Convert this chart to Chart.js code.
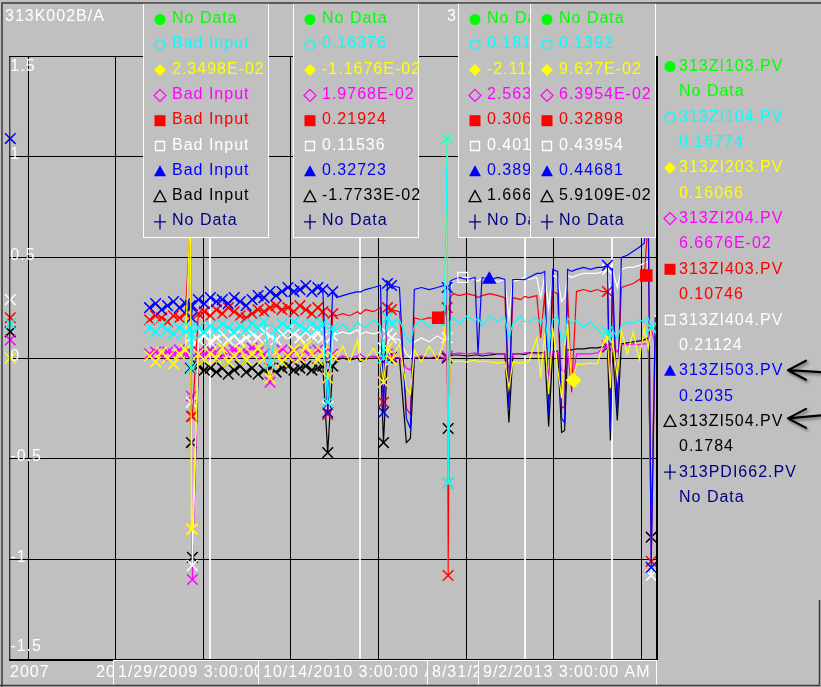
<!DOCTYPE html>
<html>
<head>
<meta charset="utf-8">
<title>313K002B/A trend</title>
<script src="https://cdn.jsdelivr.net/npm/chart.js@4.4.1/dist/chart.umd.min.js"></script>
<style>
  html, body { margin: 0; padding: 0; background: #c0c0c0; overflow: hidden; }
  canvas { display: block; }
</style>
</head>
<body>
<canvas id="trend" width="821" height="687"></canvas>
<script>
// ---- sample times (decimal years) shared by every trace ----
const traceYears = [
  2006.795, 2007.5,
  2008.386, 2008.455, 2008.523, 2008.591, 2008.659, 2008.727, 2008.795, 2008.852, 2008.864, 2008.875,
  2008.943, 2009.011, 2009.08, 2009.148, 2009.216, 2009.284, 2009.352, 2009.420, 2009.489, 2009.557,
  2009.625, 2009.693, 2009.761, 2009.830, 2009.898, 2009.966, 2010.034, 2010.102, 2010.170, 2010.239,
  2010.307, 2010.364, 2010.420, 2010.477,
  2010.523, 2010.591, 2010.670, 2010.761, 2010.79, 2010.852, 2010.943, 2011.023, 2011.057, 2011.102,
  2011.148, 2011.239, 2011.318, 2011.364, 2011.409, 2011.489, 2011.580, 2011.670, 2011.750, 2011.784,
  2011.795, 2011.818, 2011.852, 2011.920, 2012.011, 2012.102, 2012.136, 2012.182, 2012.273, 2012.364,
  2012.443, 2012.489, 2012.534, 2012.625, 2012.67, 2012.716, 2012.807, 2012.852, 2012.898, 2012.943,
  2012.989, 2013.045, 2013.091, 2013.125, 2013.159, 2013.205, 2013.261, 2013.341, 2013.420, 2013.500,
  2013.557, 2013.614, 2013.648, 2013.67, 2013.727, 2013.773, 2013.841, 2013.909, 2013.977, 2014.034,
  2014.080, 2014.114, 2014.160
];

// 313ZI104.PV
const zi104 = [
  0.17, null,
  0.15, 0.13, 0.16, 0.14, 0.12, 0.15, 0.13, 0.15, -0.05, 0.12,
  0.15, 0.13, 0.16, 0.14, 0.17, 0.15, 0.13, 0.16, 0.14, 0.17,
  0.15, 0.18, -0.03, 0.14, 0.17, 0.15, 0.18, 0.16, 0.14, 0.17,
  0.15, 0.17, -0.22, 0.15,
  0.14, 0.17, 0.13, 0.18, 0.16376, 0.15, 0.19, 0.16, 0.00, 0.20,
  0.17, 0.19, 0.10, 0.08, 0.16, 0.19, 0.15, 0.18, 0.16, 1.09,
  -0.62, 0.18, 0.20, 0.17, 0.21, 0.18, 0.20, 0.16, 0.21, 0.18,
  0.20, 0.10, 0.17, 0.21, 0.18127, 0.18, 0.20, 0.17, 0.21, 0.05,
  0.19, 0.21, 0.08, 0.10, 0.20, 0.17, 0.19, 0.15, 0.18, 0.14,
  0.12, 0.13, 0.09, 0.1392, 0.10, 0.16, 0.18, 0.17, 0.19, 0.18,
  0.20, 0.15, 0.16774
];

// 313ZI203.PV
const zi203 = [
  0.00, null,
  0.01, -0.02, 0.03, 0.00, -0.03, 0.02, 0.04, 0.75, -0.85, -0.85,
  0.02, -0.01, 0.023498, 0.00, 0.05, -0.02, 0.01, 0.04, -0.01, 0.02,
  0.05, 0.00, -0.10, 0.03, -0.02, 0.01, 0.04, 0.00, 0.06, 0.02,
  -0.01, 0.03, -0.10, 0.01,
  0.00, 0.06, -0.02, 0.09, -0.011676, -0.01, 0.05, -0.02, -0.12, 0.05,
  -0.01, 0.07, -0.15, -0.18, 0.04, -0.02, 0.06, -0.01, 0.08, 1.09,
  -0.62, 0.00, -0.02, -0.015, -0.02, -0.01, -0.02, -0.015, -0.02, -0.025,
  -0.02, -0.15, -0.02, -0.025, -0.021124, -0.02, 0.10, -0.10, 0.12, -0.18,
  0.15, -0.05, -0.20, 0.05, 0.17, -0.12, -0.03, -0.03, -0.025, -0.03,
  0.06, 0.10, -0.15, 0.09627, -0.10, 0.14, 0.02, 0.13, -0.01, 0.15,
  0.05, 0.15, 0.16066
];

// 313ZI204.PV
const zi204 = [
  0.09, null,
  0.02, 0.03, 0.01, 0.03, 0.02, 0.04, 0.02, 0.03, -0.19, -1.10,
  0.03, 0.02, 0.04, 0.03, 0.01, 0.03, 0.04, 0.02, 0.03, 0.05,
  0.03, 0.02, -0.12, 0.03, 0.04, 0.02, 0.03, 0.01, 0.03, 0.02,
  0.04, 0.02, -0.10, 0.02,
  0.00, 0.01, 0.00, 0.01, 0.019768, 0.00, 0.01, 0.00, -0.12, 0.02,
  0.01, 0.00, -0.05, -0.06, 0.00, 0.01, 0.00, 0.01, 0.00, 0.01,
  -0.62, 0.02, 0.02, 0.025, 0.02, 0.025, 0.02, 0.02, 0.025, 0.02,
  0.02, -0.05, 0.02, 0.02, 0.025637, 0.025, 0.02, 0.02, 0.025, -0.08,
  0.03, 0.03, -0.06, -0.07, 0.03, -0.15, 0.02, 0.02, 0.02, 0.025,
  0.05, 0.06, -0.02, 0.063954, 0.03, 0.065, 0.065, 0.07, 0.065, 0.07,
  0.07, 0.15, 0.066676
];

// 313ZI403.PV
const zi403 = [
  0.20, null,
  0.19, 0.21, 0.20, 0.18, 0.21, 0.20, 0.22, 0.68, -0.29, -0.29,
  0.22, 0.23, 0.21, 0.24, 0.22, 0.25, 0.23, 0.21, 0.20, 0.22,
  0.24, 0.23, 0.25, 0.26, 0.24, 0.25, 0.23, 0.26, 0.24, 0.22,
  0.25, 0.23, -0.28, 0.22,
  0.21, 0.22, 0.21, 0.23, 0.21924, 0.24, 0.23, 0.25, -0.22, 0.25,
  0.24, 0.23, -0.25, -0.28, 0.20, 0.19, 0.20, 0.19, 0.20, 0.25,
  -1.08, 0.30, 0.32, 0.31, 0.32, 0.31, 0.30, 0.31, 0.32, 0.31,
  0.30, -0.20, 0.30, 0.29, 0.30618, 0.30, 0.31, 0.10, 0.32, -0.22,
  0.33, 0.32, -0.25, -0.24, 0.33, -0.17, 0.33, 0.34, 0.33, 0.34,
  0.33, 0.33, -0.28, 0.32898, -0.20, 0.35, 0.36, 0.37, 0.39, 0.40,
  0.70, -1.01, 0.10746
];

// 313ZI404.PV
const zi404 = [
  0.29, null,
  null, null, null, null, null, null, null, 0.10, -0.22, -1.03,
  0.09, 0.11, 0.08, 0.10, 0.12, 0.09, 0.11, 0.08, 0.10, 0.12,
  0.10, 0.13, 0.11, 0.09, 0.12, 0.14, 0.12, 0.10, 0.13, 0.11,
  0.12, 0.10, -0.24, 0.11,
  0.12, 0.13, 0.12, 0.14, 0.11536, 0.13, 0.12, 0.13, 0.05, 0.12,
  0.10, 0.09, 0.02, 0.00, 0.08, 0.10, 0.08, 0.11, 0.09, 0.10,
  -1.08, 0.34, 0.39, 0.40, 0.40, 0.39, 0.38, 0.40, 0.39, 0.38,
  0.39, 0.20, 0.38, 0.39, 0.40142, 0.39, 0.40, 0.30, 0.41, 0.25,
  0.41, 0.40, 0.28, 0.30, 0.41, 0.40, 0.41, 0.42, 0.42, 0.42,
  0.43, 0.44, 0.30, 0.43954, 0.35, 0.44, 0.45, 0.45, 0.46, 0.47,
  0.48, -1.08, 0.21124
];

// 313ZI503.PV
const zi503 = [
  1.09, null,
  0.25, 0.27, 0.24, 0.26, 0.28, 0.25, 0.27, 0.26, 0.20, 0.26,
  0.29, 0.27, 0.30, 0.28, 0.29, 0.27, 0.30, 0.28, 0.26, 0.29,
  0.31, 0.30, 0.33, 0.31, 0.33, 0.35, 0.33, 0.34, 0.36, 0.33,
  0.35, 0.34, -0.27, 0.33,
  0.30, 0.31, 0.32, 0.33, 0.32723, 0.34, 0.35, 0.36, -0.27, 0.37,
  0.36, 0.35, -0.30, -0.35, 0.34, 0.35, 0.34, 0.35, 0.36, 0.35,
  -0.62, 0.38, 0.39, 0.40, 0.39, 0.40, 0.02, 0.40, 0.39, 0.40,
  0.39, -0.25, 0.39, 0.39, 0.38956, 0.40, 0.42, 0.42, 0.43, -0.28,
  0.44, 0.43, -0.30, -0.32, 0.44, 0.43, 0.44, 0.45, 0.44, 0.45,
  0.45, 0.46, -0.36, 0.44681, -0.27, 0.50, 0.51, 0.53, 0.55, 0.57,
  0.75, -1.04, 0.2035
];

// 313ZI504.PV
const zi504 = [
  0.13, null,
  null, null, null, null, null, null, null, -0.05, -0.42, -0.99,
  -0.04, -0.06, -0.05, -0.07, -0.05, -0.08, -0.06, -0.04, -0.07, -0.05,
  -0.08, -0.06, -0.05, -0.07, -0.05, -0.04, -0.06, -0.05, -0.04, -0.06,
  -0.05, -0.04, -0.47, -0.04,
  -0.01, 0.00, -0.01, 0.00, -0.017733, -0.005, 0.00, 0.00, -0.42, 0.00,
  0.005, 0.00, -0.42, -0.40, 0.00, 0.005, 0.00, 0.005, 0.00, 0.00,
  -0.35, 0.01, 0.015, 0.015, 0.01, 0.015, 0.015, 0.01, 0.015, 0.02,
  0.02, -0.32, 0.02, 0.02, 0.016662, 0.025, 0.025, 0.025, 0.03, -0.34,
  0.03, 0.035, -0.37, -0.36, 0.04, 0.04, 0.045, 0.045, 0.05, 0.05,
  0.055, 0.055, -0.41, 0.059109, -0.31, 0.07, 0.075, 0.08, 0.085, 0.09,
  0.10, -0.89, 0.1784
];

// trend symbols placed along some traces [year, value]
const zi403Symbols = [[2011.682, 0.20], [2014.057, 0.41]];
const zi404Symbols = [[2011.962, 0.40]];
const zi503Symbols = [[2012.265, 0.39]];
const zi203Symbols = [[2013.227, -0.11]];

// archive samples are marked with a cross up to this time, and at these later samples
const crossedUntil = 2010.5;
const crossedYears = [2011.057, 2011.102, 2011.148, 2011.784, 2011.795, 2013.614, 2014.114];

// axis ticks
const yearTicks = [2007, 2008, 2009, 2010, 2011, 2012, 2013, 2014];
const yearLabels = ['2007', '2008', '2009', '2010', '2011', '2012', '2013'];
const valueTicks = [-1.5, -1, -0.5, 0, 0.5, 1, 1.5];

// tags in pen order
const tagNames = ['313ZI103.PV', '313ZI104.PV', '313ZI203.PV', '313ZI204.PV', '313ZI403.PV',
                  '313ZI404.PV', '313ZI503.PV', '313ZI504.PV', '313PDI662.PV'];
const tagValues = [null, zi104, zi203, zi204, zi403, zi404, zi503, zi504, null];

// cursors
const cursorYears = [2009.08, 2010.79, 2012.67, 2013.67];
const cursorStamps = ['1/29/2009 3:00:00 AM', '10/14/2010 3:00:00 AM', '8/31/2012 3:00:00 AM', '9/2/2013 3:00:00 AM'];
const cursorQuality = [
  ['No Data', 'Bad Input', null, 'Bad Input', 'Bad Input', 'Bad Input', 'Bad Input', 'Bad Input', 'No Data'],
  ['No Data', null, null, null, null, null, null, null, 'No Data'],
  ['No Data', null, null, null, null, null, null, null, 'No Data'],
  ['No Data', null, null, null, null, null, null, null, 'No Data']
];

// ---- styling ----
const BG = '#c0c0c0';
const FONT = '16px "Liberation Sans", Arial, sans-serif';
const penColors = ['#00ff00', '#00ffff', '#ffff00', '#ff00ff', '#ff0000', '#ffffff', '#0000ff', '#000000', '#000080'];
const penSymbols = [
  ['circle', true], ['circle', false], ['diamond', true], ['diamond', false], ['square', true],
  ['square', false], ['triangle', true], ['triangle', false], ['plus', false]
];

function pts(values) {
  return traceYears.map((x, i) => ({ x, y: values[i] }));
}
function sym(list) {
  return list.map(([x, y]) => ({ x, y }));
}

// PV readout: five significant digits, small magnitudes in E notation
function readout(v) {
  const a = Math.abs(v);
  if (a !== 0 && a < 0.1) {
    let [m, e] = v.toExponential(4).split('e');
    if (m.includes('.')) m = m.replace(/0+$/, '').replace(/\.$/, '');
    const n = parseInt(e, 10);
    return m + 'E' + (n < 0 ? '-' : '+') + String(Math.abs(n)).padStart(2, '0');
  }
  return String(parseFloat(v.toPrecision(5)));
}

function pen(ctx) {
  ctx.font = FONT;
  ctx.letterSpacing = '1px';
  ctx.textAlign = 'left';
  ctx.textBaseline = 'alphabetic';
}

function drawSymbol(ctx, kind, filled, color, x, y) {
  ctx.save();
  ctx.fillStyle = color;
  ctx.strokeStyle = color;
  ctx.lineWidth = 1.3;
  ctx.beginPath();
  if (kind === 'circle') ctx.arc(x, y, filled ? 5.5 : 5, 0, Math.PI * 2);
  else if (kind === 'diamond') { ctx.moveTo(x, y - 6); ctx.lineTo(x + 6, y); ctx.lineTo(x, y + 6); ctx.lineTo(x - 6, y); ctx.closePath(); }
  else if (kind === 'square') { if (filled) ctx.rect(x - 5.5, y - 5.5, 11, 11); else ctx.rect(x - 4.5, y - 4.5, 9, 9); }
  else if (kind === 'triangle') { ctx.moveTo(x, y - 6); ctx.lineTo(x + 6, y + 5); ctx.lineTo(x - 6, y + 5); ctx.closePath(); }
  else if (kind === 'plus') { ctx.moveTo(x - 6, y); ctx.lineTo(x + 6, y); ctx.moveTo(x, y - 7.5); ctx.lineTo(x, y + 7.5); }
  if (filled) ctx.fill(); else ctx.stroke();
  ctx.restore();
}

function arrow(ctx, tipX, tipY, endX, endY) {
  ctx.save();
  ctx.strokeStyle = '#000';
  ctx.lineWidth = 2.2;
  ctx.lineCap = 'round';
  ctx.lineJoin = 'round';
  ctx.shadowColor = 'rgba(0,0,0,0.45)';
  ctx.shadowBlur = 3;
  ctx.shadowOffsetX = 1.5;
  ctx.shadowOffsetY = 2;
  ctx.beginPath();
  ctx.moveTo(endX, endY);
  ctx.lineTo(tipX, tipY);
  ctx.moveTo(tipX + 18, tipY - 9.5);
  ctx.lineTo(tipX, tipY);
  ctx.lineTo(tipX + 18, tipY + 9.5);
  ctx.stroke();
  ctx.restore();
}

const trendDecor = {
  id: 'trendDecor',
  beforeDraw(chart) {
    const { ctx, width, height } = chart;
    ctx.save();
    ctx.fillStyle = BG;
    ctx.fillRect(0, 0, width, height);
    ctx.restore();
  },
  beforeDatasetsDraw(chart) {
    const { ctx, chartArea: ca, scales } = chart;
    ctx.save();
    ctx.strokeStyle = 'rgba(255,255,255,0.85)';
    ctx.lineWidth = 2;
    cursorYears.forEach(yr => {
      const x = Math.round(scales.x.getPixelForValue(yr));
      ctx.beginPath();
      ctx.moveTo(x, ca.top);
      ctx.lineTo(x, ca.bottom);
      ctx.stroke();
    });
    ctx.restore();
  },
  afterDatasetsDraw(chart) {
    const { ctx, chartArea: ca, scales } = chart;
    ctx.save();
    // plot frame
    ctx.strokeStyle = '#000';
    ctx.lineWidth = 1;
    ctx.beginPath();
    ctx.moveTo(ca.left + 0.5, ca.top);
    ctx.lineTo(ca.left + 0.5, ca.bottom);
    ctx.moveTo(ca.left, ca.top + 0.5);
    ctx.lineTo(ca.right, ca.top + 0.5);
    ctx.moveTo(ca.left, ca.bottom - 0.5);
    ctx.lineTo(ca.right, ca.bottom - 0.5);
    ctx.stroke();
    ctx.lineWidth = 2;
    ctx.beginPath();
    ctx.moveTo(ca.right, ca.top);
    ctx.lineTo(ca.right, ca.bottom);
    ctx.stroke();
    // value labels inside the plot
    pen(ctx);
    ctx.fillStyle = '#fff';
    valueTicks.forEach(v => {
      const y = scales.y.getPixelForValue(v);
      let base = y + 2.5;
      if (v === valueTicks[valueTicks.length - 1]) base = ca.top + 15;
      if (v === valueTicks[0]) base = ca.bottom - 9.5;
      ctx.fillText(String(v), ca.left + 1, base);
    });
    ctx.restore();
  },
  afterDraw(chart) {
    const { ctx, chartArea: ca, scales, width, height } = chart;
    ctx.save();
    pen(ctx);

    // group titles
    ctx.fillStyle = '#fff';
    ctx.fillText('313K002B/A', 5, 21);
    ctx.fillText('313K002B/A', 447, 21);

    // year labels under the plot
    yearLabels.forEach(lbl => {
      const gx = scales.x.getPixelForValue(Number(lbl));
      const w = ctx.measureText(lbl).width;
      ctx.fillText(lbl, Math.max(10, gx - w / 2), ca.bottom + 17);
    });

    // cursor readout boxes
    const boxW = 125, boxTop = 3, boxH = 234, rowH = 25.3;
    cursorYears.forEach((yr, c) => {
      const cx = scales.x.getPixelForValue(yr);
      const left = Math.round(Math.min(cx - 67, ca.right - 2 - boxW));
      ctx.fillStyle = BG;
      ctx.fillRect(left, boxTop, boxW, boxH);
      ctx.strokeStyle = '#fff';
      ctx.lineWidth = 1;
      ctx.strokeRect(left + 0.5, boxTop + 0.5, boxW, boxH);
      const idx = traceYears.indexOf(yr);
      tagNames.forEach((tag, r) => {
        const base = 23 + r * rowH;
        let text = cursorQuality[c][r];
        if (text === null) {
          const series = tagValues[r];
          text = series && series[idx] != null ? readout(series[idx]) : 'No Data';
        }
        drawSymbol(ctx, penSymbols[r][0], penSymbols[r][1], penColors[r], left + 17, base - 3.5);
        ctx.fillStyle = penColors[r];
        ctx.fillText(text, left + 29, base);
      });
    });

    // cursor time stamps
    cursorYears.forEach((yr, c) => {
      const cx = scales.x.getPixelForValue(yr);
      const tw = ctx.measureText(cursorStamps[c]).width;
      const w = Math.round(tw + 10);
      const left = Math.round(Math.min(cx - w / 2 - 4, ca.right - 1 - w));
      ctx.fillStyle = BG;
      ctx.fillRect(left, ca.bottom, w, 25);
      ctx.strokeStyle = '#fff';
      ctx.lineWidth = 1;
      ctx.strokeRect(left + 0.5, ca.bottom + 0.5, w, 25);
      ctx.fillStyle = '#fff';
      ctx.fillText(cursorStamps[c], left + 5, ca.bottom + 17);
    });

    // pen legend with current values
    const lx = ca.right + 13;
    const legendRow = 25.35;
    tagNames.forEach((tag, r) => {
      const base = 71 + 2 * r * legendRow;
      const series = tagValues[r];
      const cur = series ? readout(series[series.length - 1]) : 'No Data';
      drawSymbol(ctx, penSymbols[r][0], penSymbols[r][1], penColors[r], lx, base - 4.5);
      ctx.fillStyle = penColors[r];
      ctx.fillText(tag, lx + 9, base);
      ctx.fillText(cur, lx + 9, base + legendRow);
    });

    // pointers to the 313ZI503 / 313ZI504 pens
    const b503 = 71 + 2 * 6 * legendRow;
    const b504 = 71 + 2 * 7 * legendRow;
    arrow(ctx, 788, b503 - 5, width, b503 - 3);
    arrow(ctx, 788, b504 - 7.5, width, b504 - 10.5);

    // window frame
    ctx.strokeStyle = '#3a3a3a';
    ctx.lineWidth = 1.5;
    ctx.beginPath();
    ctx.moveTo(2, height);
    ctx.lineTo(2, 3);
    ctx.lineTo(width, 3);
    ctx.moveTo(0, height - 1.5);
    ctx.lineTo(819.5, height - 1.5);
    ctx.lineTo(819.5, ca.bottom - 60);
    ctx.stroke();
    ctx.restore();
  }
};

// ---- datasets (first entry is drawn on top) ----
function crossRadius(c) {
  const p = c.raw;
  if (!p || p.y == null) return 0;
  return (p.x < crossedUntil || crossedYears.includes(p.x)) ? 7.5 : 0;
}
function trace(label, values, color) {
  return {
    label, data: pts(values), borderColor: color, backgroundColor: color,
    borderWidth: 1.2, pointStyle: 'crossRot', pointRadius: crossRadius, pointBorderWidth: 1.5,
    pointBorderColor: color, tension: 0, spanGaps: false, clip: false
  };
}
function marks(label, list, color, style, filled, radius) {
  return {
    type: 'scatter', label, data: sym(list), pointStyle: style, pointRadius: radius,
    pointBackgroundColor: filled ? color : 'rgba(0,0,0,0)', pointBorderColor: color,
    pointBorderWidth: 1.3, showLine: false, clip: false
  };
}

new Chart(document.getElementById('trend'), {
  type: 'line',
  data: {
    datasets: [
      marks('313ZI403.PV symbol', zi403Symbols, '#ff0000', 'rect', true, 8),
      marks('313ZI404.PV symbol', zi404Symbols, '#ffffff', 'rect', false, 7),
      marks('313ZI503.PV symbol', zi503Symbols, '#0000ff', 'triangle', true, 7),
      marks('313ZI203.PV symbol', zi203Symbols, '#ffff00', 'rectRot', true, 7),
      trace('313ZI104.PV', zi104, '#00ffff'),
      trace('313ZI203.PV', zi203, '#ffff00'),
      trace('313ZI503.PV', zi503, '#0000ff'),
      trace('313ZI403.PV', zi403, '#ff0000'),
      trace('313ZI404.PV', zi404, '#ffffff'),
      trace('313ZI204.PV', zi204, '#ff00ff'),
      trace('313ZI504.PV', zi504, '#000000')
    ]
  },
  options: {
    responsive: false,
    devicePixelRatio: 1,
    animation: false,
    events: [],
    layout: { padding: { left: 6, top: 56, right: 164, bottom: 27 } },
    plugins: { legend: { display: false }, tooltip: { enabled: false } },
    scales: {
      x: {
        type: 'linear', min: 2006.784, max: 2014.18,
        afterBuildTicks: s => { s.ticks = yearTicks.map(v => ({ value: v })); },
        ticks: { display: false },
        grid: { color: '#000', lineWidth: 1, drawTicks: false },
        border: { display: false }
      },
      y: {
        type: 'linear', min: -1.5, max: 1.5,
        afterBuildTicks: s => { s.ticks = valueTicks.map(v => ({ value: v })); },
        ticks: { display: false },
        grid: { color: '#000', lineWidth: 1, drawTicks: false },
        border: { display: false }
      }
    }
  },
  plugins: [trendDecor]
});
</script>
</body>
</html>
